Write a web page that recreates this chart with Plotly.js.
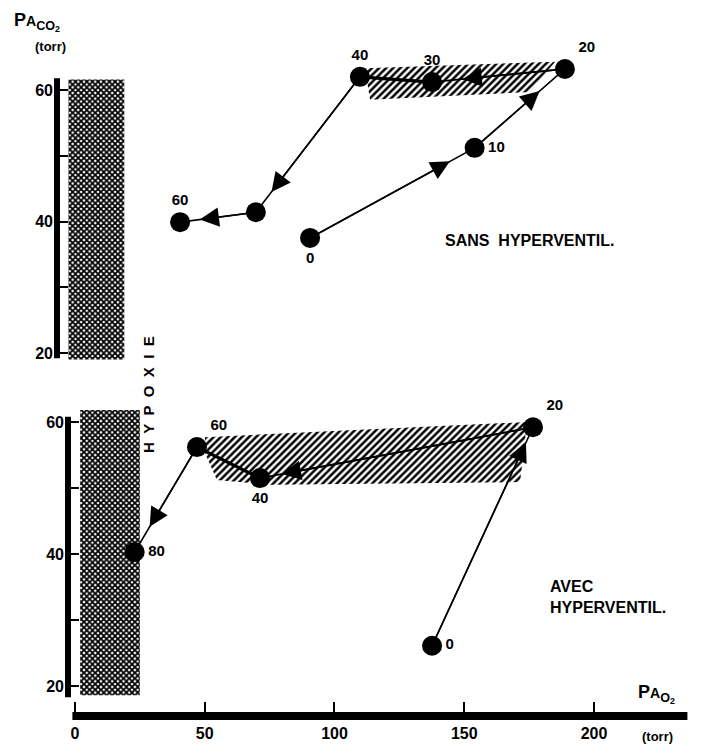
<!DOCTYPE html>
<html><head><meta charset="utf-8">
<script src="https://cdn.plot.ly/plotly-3.0.1.min.js"></script>
<style>html,body{margin:0;padding:0;background:#fff}</style>
</head><body><div id="chart" style="width:702px;height:752px"></div>
<script>
// ---- Top panel: SANS HYPERVENTIL. (labels = time)
const topLabels   = ['0', '10', '20', '30', '40', '', '60'];
const topPaO2     = [90.6, 154, 188.8, 137.6, 109.8, 69.7, 40.5];
const topPaCO2    = [37.5, 51.2, 63.2, 61.2, 62.0, 41.4, 39.9];
const topLabelPos = ['bottom center', 'middle right', 'top right', 'top center', 'top center', 'top center', 'top center'];
const topArrowFrac = [0.85, 0.72, 0.77, null, 0.85, 0.74];
const topThickSeg = [3, 4];   // heavier segment (30 -> 40)

// ---- Bottom panel: AVEC HYPERVENTIL.
const botLabels   = ['0', '20', '40', '60', '80'];
const botPaO2     = [137.6, 176.5, 71.3, 47, 23];
const botPaCO2    = [26.1, 59.2, 51.5, 56.2, 40.3];
const botLabelPos = ['middle right', 'top right', 'bottom center', 'top right', 'middle right'];
const botArrowFrac = [0.93, 0.92, null, 0.76];
const botThickSeg = [2, 3];   // heavier segment (40 -> 60)

// ---- Hatched zones
const topHatchX = [111.8, 185, 175.3, 113.7];
const topHatchY = [63.3, 64.3, 59.7, 58.5];
const botHatchX = [50.1, 174.2, 171.5, 75.1, 54.7, 50.1];
const botHatchY = [57.7, 60.0, 50.9, 50.5, 51.2, 55.3];

// ---- Hypoxie zones
const hypoTopX = [-2.5, 19, 19, -2.5];
const hypoTopY = [19, 19, 61.6, 61.6];
const hypoBotX = [2, 25, 25, 2];
const hypoBotY = [18.6, 18.6, 61.8, 61.8];

// ---- Axes
const xTickVals = [0, 50, 100, 150, 200];
const xTickText = ['0', '50', '100', '150', '200'];
const yTickVals = [20, 30, 40, 50, 60];
const yTickText = ['20', '', '40', '', '60'];

const W = 702, H = 752;
const px = v => v / W, py = v => 1 - v / H;
const FONT = 'Liberation Sans, Arial, sans-serif';

const hypoPattern = {shape: 'x', size: 4, solidity: 0.7, fgcolor: '#000', bgcolor: '#fff'};
const hatchPattern = {shape: '/', size: 5, solidity: 0.5, fgcolor: '#000', bgcolor: '#fff'};

const zone = (x, y, ya, pat) => ({x: x, y: y, xaxis: 'x', yaxis: ya, type: 'scatter', mode: 'none',
  fill: 'toself', fillcolor: '#fff', fillpattern: pat, hoverinfo: 'skip', showlegend: false});

const thick = (xs, ys, seg, ya) => ({x: xs.slice(seg[0], seg[1] + 1), y: ys.slice(seg[0], seg[1] + 1),
  xaxis: 'x', yaxis: ya, type: 'scatter', mode: 'lines', line: {color: '#000', width: 3.2},
  hoverinfo: 'skip', showlegend: false});

const traces = [
  zone(hypoTopX, hypoTopY, 'y2', hypoPattern),
  zone(hypoBotX, hypoBotY, 'y', hypoPattern),
  zone(topHatchX, topHatchY, 'y2', hatchPattern),
  zone(botHatchX, botHatchY, 'y', hatchPattern),
  thick(topPaO2, topPaCO2, topThickSeg, 'y2'),
  thick(botPaO2, botPaCO2, botThickSeg, 'y'),
  {x: topPaO2, y: topPaCO2, text: topLabels, textposition: topLabelPos, xaxis: 'x', yaxis: 'y2',
   type: 'scatter', mode: 'lines+markers+text', cliponaxis: false,
   line: {color: '#000', width: 1.6}, marker: {color: '#000', size: 20},
   textfont: {family: FONT, size: 15, color: '#000', weight: 'bold'}, showlegend: false},
  {x: botPaO2, y: botPaCO2, text: botLabels, textposition: botLabelPos, xaxis: 'x', yaxis: 'y',
   type: 'scatter', mode: 'lines+markers+text', cliponaxis: false,
   line: {color: '#000', width: 1.6}, marker: {color: '#000', size: 20},
   textfont: {family: FONT, size: 15, color: '#000', weight: 'bold'}, showlegend: false}
];

function arrows(xs, ys, fr, yref) {
  const out = [];
  for (let i = 0; i < fr.length; i++) {
    if (fr[i] == null) continue;
    out.push({
      x: xs[i] + fr[i] * (xs[i + 1] - xs[i]), y: ys[i] + fr[i] * (ys[i + 1] - ys[i]),
      ax: xs[i], ay: ys[i], xref: 'x', yref: yref, axref: 'x', ayref: yref,
      text: '', showarrow: true, arrowhead: 2, arrowsize: 2.4, arrowwidth: 1.6,
      arrowcolor: '#000', standoff: 0, startstandoff: 0
    });
  }
  return out;
}

const txt = (s, x, y, size, extra) => Object.assign({
  text: s, x: x, y: y, xref: 'paper', yref: 'paper', showarrow: false,
  font: {family: FONT, size: size, color: '#000', weight: 'bold'}
}, extra || {});

const annotations = [
  ...arrows(topPaO2, topPaCO2, topArrowFrac, 'y2'),
  ...arrows(botPaO2, botPaCO2, botArrowFrac, 'y'),
  txt('SANS  HYPERVENTIL.', px(443), py(240), 16, {xanchor: 'left', yanchor: 'middle'}),
  txt('AVEC<br>HYPERVENTIL.', px(548), py(597), 16, {xanchor: 'left', yanchor: 'middle', align: 'left'}),
  txt('H\u00a0\u00a0Y\u00a0\u00a0P\u00a0\u00a0O\u00a0\u00a0X\u00a0\u00a0I\u00a0\u00a0E', px(148), py(395), 15,
      {textangle: -90, xanchor: 'center', yanchor: 'middle'}),
  txt('P<span style="font-size:14px">A</span><sub>CO<sub>2</sub></sub>', px(12), py(22), 18, {xanchor: 'left', yanchor: 'middle'}),
  txt('(torr)', px(50), py(46), 13, {xanchor: 'center', yanchor: 'middle'}),
  txt('P<span style="font-size:14px">A</span><sub>O<sub>2</sub></sub>', px(636), py(694), 18, {xanchor: 'left', yanchor: 'middle'}),
  txt('(torr)', px(657), py(736), 13, {xanchor: 'center', yanchor: 'middle'})
];

const shapes = [
  {type: 'line', xref: 'x', yref: 'paper', x0: -1, x1: 236, y0: py(716), y1: py(716), line: {color: '#000', width: 8}},
  {type: 'line', xref: 'paper', yref: 'y2', x0: px(57), x1: px(57), y0: 19.2, y1: 61.8, line: {color: '#000', width: 6}},
  {type: 'line', xref: 'paper', yref: 'y', x0: px(68), x1: px(68), y0: 18.3, y1: 60.8, line: {color: '#000', width: 6}}
];

const yCommon = {
  anchor: 'free', ticks: 'inside', ticklen: 10, tickwidth: 2, tickcolor: '#000',
  showline: false, showgrid: false, zeroline: false, tickvals: yTickVals, ticktext: yTickText,
  tickfont: {family: FONT, size: 16, color: '#000', weight: 'bold'}, ticklabelstandoff: 4, fixedrange: true
};

const layout = {
  width: W, height: H, margin: {l: 0, r: 0, t: 0, b: 0}, paper_bgcolor: '#fff', plot_bgcolor: 'rgba(0,0,0,0)',
  showlegend: false,
  xaxis: {
    domain: [px(50), px(690)], range: [-9.63, 237], anchor: 'free', position: py(716),
    ticks: 'inside', ticklen: 14, tickwidth: 2, tickcolor: '#000', tickvals: xTickVals, ticktext: xTickText,
    showline: false, showgrid: false, zeroline: false, ticklabelstandoff: 6,
    tickfont: {family: FONT, size: 16, color: '#000', weight: 'bold'}, fixedrange: true
  },
  yaxis: Object.assign({}, yCommon, {domain: [py(712.4), py(395.6)], range: [16, 64], position: px(68)}),
  yaxis2: Object.assign({}, yCommon, {domain: [py(366.15), py(50.55)], range: [18, 66], position: px(57)}),
  shapes: shapes,
  annotations: annotations
};

Plotly.newPlot('chart', traces, layout, {displayModeBar: false, staticPlot: true});
</script>
</body></html>
